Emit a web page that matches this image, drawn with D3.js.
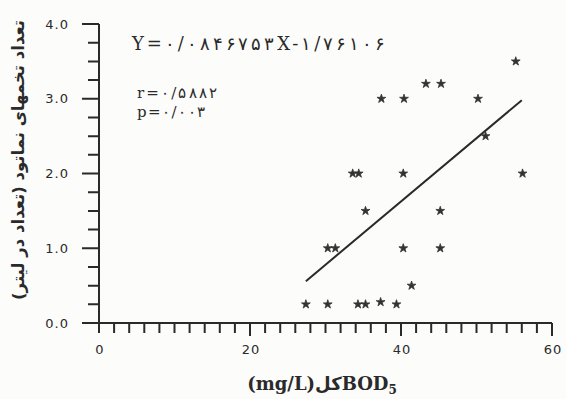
<!DOCTYPE html>
<html>
<head>
<meta charset="utf-8">
<script src="https://cdn.jsdelivr.net/npm/d3@7"></script>
<style>
  body { margin: 0; background: #fcfcfa; }
  svg { display: block; }
</style>
</head>
<body>
<div id="chart"></div>
<script>
// BOD5 (mg/L) vs nematode eggs per litre
var bodValues = [27.4, 30.3, 34.3, 35.3, 37.3, 39.4, 41.4, 30.3, 31.3, 40.3, 45.2, 35.3, 45.2,
                 33.6, 34.4, 40.3, 56.1, 51.2, 37.4, 40.4, 50.2, 43.3, 45.3, 55.2];
var eggValues = [0.25, 0.25, 0.25, 0.25, 0.28, 0.25, 0.5, 1.0, 1.0, 1.0, 1.0, 1.5, 1.5,
                 2.0, 2.0, 2.0, 2.0, 2.5, 3.0, 3.0, 3.0, 3.2, 3.2, 3.5];
var fitSlope = 0.0846753, fitIntercept = -1.76106;
var fitRange = [27.4, 56.0];
var yTicks = [0, 1, 2, 3, 4];
var xTicks = [0, 20, 40, 60];

var width = 566, height = 399;
var ink = "#2a2a2a";

var svg = d3.select("#chart").append("svg")
  .attr("width", width)
  .attr("height", height);

var x = d3.scaleLinear().domain([0, 60]).range([99, 552]);
var y = d3.scaleLinear().domain([0, 4]).range([323, 24]);

// axis lines with ticks (y ticks point left, x ticks point down, longer at labelled values)
var tickPath = "M" + x(0) + "," + y(4) + "V" + (y(0) + 10) +
  d3.range(0, 4.01, 0.25).map(function(d) {
    return "M" + x(0) + "," + y(d) + "H" + (x(0) - (d % 1 === 0 ? 17 : 11));
  }).join("") +
  "M" + (x(0) - 17) + "," + y(0) + "H" + x(60) +
  d3.range(2, 60.1, 2).map(function(d) {
    return "M" + x(d) + "," + y(0) + "V" + (y(0) + (d % 20 === 0 ? 13 : 10));
  }).join("");

svg.append("path").attr("d", tickPath)
  .attr("fill", "none").attr("stroke", ink).attr("stroke-width", 2);

var labels = svg.append("g").attr("fill", ink)
  .attr("font-family", "'DejaVu Sans', sans-serif").attr("font-size", 13)
  .attr("letter-spacing", 1);
labels.selectAll(".yl")
  .data(yTicks)
  .enter().append("text")
  .attr("x", 69)
  .attr("y", function(d) { return y(d); })
  .attr("dy", "0.35em")
  .attr("text-anchor", "end")
  .text(d3.format(".1f"));
labels.selectAll(".xl")
  .data(xTicks)
  .enter().append("text")
  .attr("x", function(d) { return x(d) + 1; })
  .attr("y", y(0) + 31)
  .attr("text-anchor", "middle")
  .text(d3.format("d"));

// regression line
svg.append("line")
  .attr("x1", x(fitRange[0])).attr("y1", y(fitSlope * fitRange[0] + fitIntercept))
  .attr("x2", x(fitRange[1])).attr("y2", y(fitSlope * fitRange[1] + fitIntercept))
  .attr("stroke", ink).attr("stroke-width", 2);

// star markers
var star = d3.symbol().type(d3.symbolStar).size(24);
svg.selectAll(".pt")
  .data(bodValues.map(function(b, i) { return [b, eggValues[i]]; }))
  .enter().append("path")
  .attr("class", "pt")
  .attr("d", star)
  .attr("transform", function(d) { return "translate(" + x(d[0]) + "," + y(d[1]) + ")"; })
  .attr("fill", "#333")
  .attr("stroke", "#333")
  .attr("stroke-width", 0.8);

// annotations
var notes = svg.append("g").attr("fill", ink).attr("font-family", "'DejaVu Serif', 'Liberation Serif', serif");
notes.append("text").attr("x", 132).attr("y", 50).attr("font-size", 18)
  .attr("textLength", 253).attr("lengthAdjust", "spacing")
  .text("Y=۰/۰۸۴۶۷۵۳X-۱/۷۶۱۰۶");
notes.append("text").attr("x", 137).attr("y", 98).attr("font-size", 15)
  .attr("textLength", 80).attr("lengthAdjust", "spacing")
  .text("r=۰/۵۸۸۲");
notes.append("text").attr("x", 137).attr("y", 117).attr("font-size", 15)
  .attr("textLength", 68).attr("lengthAdjust", "spacing")
  .text("p=۰/۰۰۳");

// axis titles
svg.append("text")
  .attr("transform", "translate(24,160) rotate(-90)")
  .attr("text-anchor", "middle")
  .attr("font-family", "'DejaVu Sans', sans-serif")
  .attr("font-weight", "bold")
  .attr("font-size", 16.5)
  .attr("fill", ink)
  .text("تعداد تخمهای نماتود (تعداد در لیتر)");

var xt = svg.append("text")
  .attr("x", 322).attr("y", 390)
  .attr("text-anchor", "middle")
  .attr("font-family", "'DejaVu Serif', 'Liberation Serif', serif")
  .attr("font-weight", "bold")
  .attr("font-size", 18)
  .attr("fill", ink);
xt.append("tspan").text("(mg/L)");
xt.append("tspan").attr("font-family", "'DejaVu Sans', sans-serif").text("کل");
xt.append("tspan").text("BOD");
xt.append("tspan").attr("font-size", 12).attr("dy", 4).text("5");
</script>
</body>
</html>
